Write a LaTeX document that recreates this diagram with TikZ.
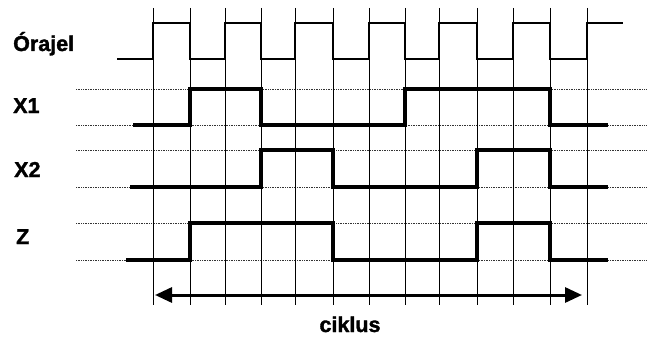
\documentclass[tikz,border=0pt]{standalone}
\usepackage{fontspec}
\setmainfont{Liberation Sans}
\newfontfamily\heavyfont{Liberation Sans Bold}[FakeBold=1.6]
\usetikzlibrary{arrows.meta}
\tikzset{
  lbl/.style={font=\fontsize{21.5}{25}\heavyfont\selectfont, inner sep=0pt},
  grid/.style={line width=0.9pt, black},
  guide/.style={line width=0.7pt, densely dotted, black!80},
  clk/.style={line width=1.8pt, line join=miter},
  sig/.style={line width=4.2pt, line join=miter},
}
\begin{document}
\begin{tikzpicture}[x=1pt,y=-1pt]
\useasboundingbox (0,0) rectangle (647,337);
% guide dotted lines
\foreach \yy in {89,125,150,187,223,260}
  \draw[guide] (76,\yy) -- (647,\yy);
% grid lines
\foreach \xx in {153,190,225,261,295,333,369,405,439,477,513,550,587}
  \draw[grid] (\xx,8) -- (\xx,305);
% clock
\draw[clk] (117,59) -- (153,59) -- (153,23) -- (190,23) -- (190,59) -- (225,59) -- (225,23)
  -- (261,23) -- (261,59) -- (295,59) -- (295,23) -- (333,23) -- (333,59) -- (369,59)
  -- (369,23) -- (405,23) -- (405,59) -- (439,59) -- (439,23) -- (477,23) -- (477,59)
  -- (513,59) -- (513,23) -- (550,23) -- (550,59) -- (587,59) -- (587,23) -- (623,23);
% X1
\draw[sig] (133,125) -- (190,125) -- (190,89) -- (261,89) -- (261,125) -- (405,125)
  -- (405,89) -- (550,89) -- (550,125) -- (608,125);
% X2
\draw[sig] (130,187) -- (261,187) -- (261,150) -- (333,150) -- (333,187) -- (477,187)
  -- (477,150) -- (550,150) -- (550,187) -- (608,187);
% Z
\draw[sig] (126,260) -- (190,260) -- (190,223) -- (333,223) -- (333,260) -- (477,260)
  -- (477,223) -- (550,223) -- (550,260) -- (608,260);
% labels
\node[lbl, anchor=base west] (orajel) at (13,51) {Órajel};
\node[lbl, anchor=base west] (x1) at (13,113) {X1};
\node[lbl, anchor=base west] (x2) at (14,177) {X2};
\node[lbl, anchor=base west] (z) at (16,244) {Z};
\node[lbl, anchor=base] (ciklus) at (350,332) {ciklus};
% cycle arrow
\coordinate (ca) at (155,295);
\coordinate (cb) at (582,295);
\draw[line width=3pt, {Triangle[length=17pt,width=15pt]}-{Triangle[length=17pt,width=15pt]}] (ca) -- (cb);
\end{tikzpicture}
\end{document}
